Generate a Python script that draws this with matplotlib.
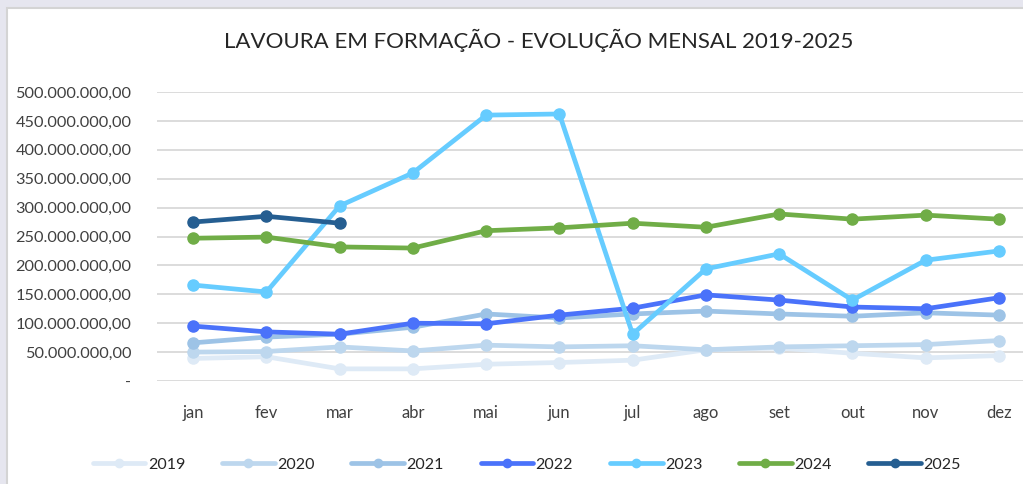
import matplotlib
matplotlib.use('Agg')
import matplotlib.pyplot as plt
from matplotlib.patches import Rectangle
from matplotlib.ticker import FuncFormatter

meses = ['jan', 'fev', 'mar', 'abr', 'mai', 'jun', 'jul', 'ago', 'set', 'out', 'nov', 'dez']

v2019 = [39, 42, 21, 21, 29, 32, 36, 54, 57, 48, 40, 44]
v2020 = [50, 51, 59, 52, 62, 59, 61, 54, 59, 61, 63, 70]
v2021 = [66, 76, 81, 93, 116, 109, 116, 121, 116, 112, 118, 114]
v2022 = [95, 85, 81, 100, 99, 114, 126, 149, 140, 128, 125, 144]
v2023 = [166, 154, 303, 360, 460, 462, 81, 194, 220, 140, 209, 225]
v2024 = [247, 249, 232, 230, 260, 265, 273, 266, 289, 280, 287, 280]
v2025 = [275, 285, 273]

anos = ['2019', '2020', '2021', '2022', '2023', '2024', '2025']
series = [v2019, v2020, v2021, v2022, v2023, v2024, v2025]
cores = ['#DEEAF6', '#BDD7EE', '#9DC3E6', '#4A72FA', '#66CCFF', '#70AD47', '#255E91']

plt.rcParams['font.family'] = ['Lato', 'DejaVu Sans']

fig = plt.figure(figsize=(10.23, 4.84), dpi=100)
fig.patch.set_facecolor('#E6E6EF')
fundo = Rectangle((7 / 1023, -0.1), 1.1, (484 - 8) / 484 + 0.1,
                  transform=fig.transFigure, facecolor='white',
                  edgecolor='#D4D4D4', linewidth=1.5, zorder=-1)
fig.patches.append(fundo)

ax = fig.add_axes([156.5 / 1023, 103 / 484, 879 / 1023, 289 / 484])
ax.set_facecolor('none')
ax.set_zorder(1)

x = list(range(len(meses)))
for ano, vals, cor in zip(anos, series, cores):
    ax.plot(x[:len(vals)], [v * 1e6 for v in vals], color=cor, linewidth=3.4,
            marker='o', markersize=8, label=ano, solid_capstyle='round')

ax.set_xlim(-0.5, 11.5)
ax.set_ylim(0, 500e6)
ax.set_yticks([i * 50e6 for i in range(11)])


def fmt(v, pos):
    if v == 0:
        return '-'
    return f'{v:,.2f}'.replace(',', 'X').replace('.', ',').replace('X', '.')


ax.yaxis.set_major_formatter(FuncFormatter(fmt))
ax.set_xticks(x)
ax.set_xticklabels(meses)
ax.tick_params(axis='y', length=0, pad=18, labelsize=11.7, labelcolor='#404040')
ax.tick_params(axis='x', length=0, pad=17, labelsize=12, labelcolor='#404040')
ax.grid(axis='y', color='#D9D9D9', linewidth=1.3)
ax.set_axisbelow(True)
for s in ax.spines.values():
    s.set_visible(False)

fig.text(0.527, 0.917, 'LAVOURA EM FORMAÇÃO - EVOLUÇÃO MENSAL 2019-2025',
         ha='center', va='center', fontsize=16, color='#262626')

fig.legend(*ax.get_legend_handles_labels(), loc='center', ncol=7,
           bbox_to_anchor=(0.515, 0.04), frameon=False, fontsize=11.5,
           handlelength=3.3, handletextpad=0.15, columnspacing=2.3,
           markerscale=0.75, labelcolor='#262626')

fig.savefig('out.png', dpi=100, facecolor=fig.get_facecolor())
